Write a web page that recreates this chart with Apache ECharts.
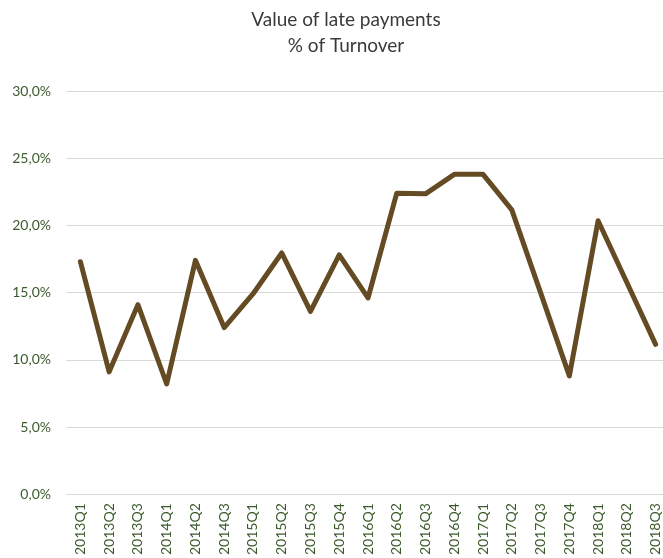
<!DOCTYPE html>
<html>
<head>
    <meta charset="UTF-8">
    <title>Value of late payments</title>
    <script src="https://cdn.jsdelivr.net/npm/echarts@6/dist/echarts.min.js"></script>
    <style>
        html, body {margin: 0; padding: 0; background: #fff; overflow: hidden;}
    </style>
</head>
<body>
<!-- a bit wider than the window: the plot is cut off on the right like the original -->
<div id="main" style="width: 675px;height:558px;"></div>
<script>
    var quarters = ['2013Q1', '2013Q2', '2013Q3', '2014Q1', '2014Q2', '2014Q3', '2015Q1', '2015Q2',
        '2015Q3', '2015Q4', '2016Q1', '2016Q2', '2016Q3', '2016Q4', '2017Q1', '2017Q2',
        '2017Q3', '2017Q4', '2018Q1', '2018Q2', '2018Q3'];

    // % of turnover
    var latePayments = [17.3, 9.1, 14.1, 8.2, 17.4, 12.4, 14.9, 17.95, 13.6, 17.8, 14.6,
        22.4, 22.35, 23.8, 23.8, 21.15, 15.0, 8.8, 20.35, 15.75, 11.15];

    var myChart = echarts.init(document.getElementById('main'));

    var font = 'Lato, "Open Sans", sans-serif';

    var option = {
        animation: false,
        backgroundColor: '#fff',
        title: {
            text: 'Value of late payments\n% of Turnover',
            left: 341,
            textAlign: 'center',
            top: 2,
            padding: 5,
            textStyle: {
                fontFamily: font,
                fontSize: 19,
                fontWeight: 'normal',
                color: '#3a3a3a',
                lineHeight: 26
            }
        },
        grid: {
            left: 66,
            right: 5,
            top: 91,
            bottom: 62
        },
        xAxis: {
            type: 'category',
            data: quarters,
            boundaryGap: true,
            axisLine: {lineStyle: {color: '#d9d9d9', width: 1}},
            axisTick: {show: false},
            axisLabel: {
                rotate: 90,
                interval: 0,
                margin: 9,
                fontFamily: font,
                fontSize: 14,
                color: '#3b5a2b'
            }
        },
        yAxis: {
            type: 'value',
            min: 0,
            max: 30,
            interval: 5,
            axisLine: {show: false},
            axisTick: {show: false},
            splitLine: {lineStyle: {color: '#d9d9d9', width: 1}},
            axisLabel: {
                margin: 15,
                fontFamily: font,
                fontSize: 14,
                color: '#3b5a2b',
                formatter: function (v) {
                    return v.toFixed(1).replace('.', ',') + '%';
                }
            }
        },
        series: [{
            name: 'Value of late payments',
            type: 'line',
            data: latePayments,
            showSymbol: false,
            lineStyle: {
                color: '#654b24',
                width: 5,
                cap: 'round',
                join: 'round'
            }
        }]
    };

    myChart.setOption(option);
</script>
</body>
</html>
